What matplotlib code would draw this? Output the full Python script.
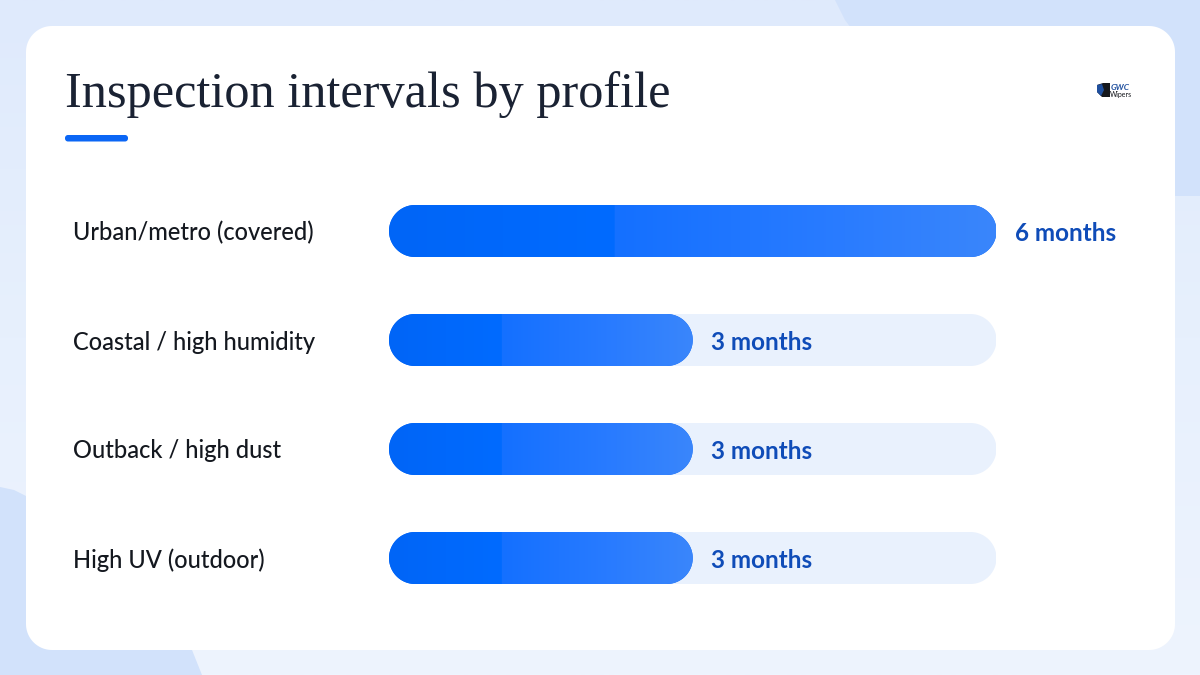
import numpy as np
import matplotlib
matplotlib.use("Agg")
import matplotlib.pyplot as plt
from matplotlib.patches import PathPatch, Polygon
from matplotlib.path import Path
from matplotlib.colors import LinearSegmentedColormap
from matplotlib.transforms import IdentityTransform

TITLE = "Inspection intervals by profile"
profiles = ["Urban/metro (covered)", "Coastal / high humidity", "Outback / high dust", "High UV (outdoor)"]
months = [6, 3, 3, 3]
scale_max = 6
value_labels = ["6 months", "3 months", "3 months", "3 months"]

W, H = 1200, 675


def round_rect(x0, y0, x1, y1, r, n=24):
    """Rounded rectangle with true circular corners."""
    pts = []
    corners = [(x1 - r, y1 - r, 0), (x0 + r, y1 - r, 90), (x0 + r, y0 + r, 180), (x1 - r, y0 + r, 270)]
    for cx, cy, start in corners:
        a = np.radians(np.linspace(start, start + 90, n))
        pts.append(np.column_stack([cx + r * np.cos(a), cy + r * np.sin(a)]))
    return Path(np.vstack(pts), closed=False)


fig = plt.figure(figsize=(12, 6.75), dpi=100, facecolor="#eaf2fe")

bg = fig.add_axes([0, 0, 1, 1], zorder=0)
bg_cmap = LinearSegmentedColormap.from_list("bg", ["#dfeafc", "#e7f0fd", "#eef4fe"])
bg.imshow(np.linspace(0, 1, 256).reshape(-1, 1), cmap=bg_cmap, extent=[0, W, H, 0], aspect="auto", zorder=0)
bg.set_xlim(0, W); bg.set_ylim(H, 0); bg.axis("off")
blob = "#d2e2fb"
bg.add_patch(Polygon([(835, 0), (1200, 0), (1200, 196), (1100, 196), (860, 40), (845, 20)],
                     closed=True, fc=blob, ec="none", zorder=1))
bg.add_patch(Polygon([(0, 487), (14, 490), (30, 498), (60, 600), (190, 645), (202, 675), (0, 675)],
                     closed=True, fc=blob, ec="none", zorder=1))
bg.add_patch(PathPatch(round_rect(26, 26, 1175, 650, 26), fc="white", ec="none", zorder=2))
bg.add_patch(PathPatch(round_rect(65, 135, 128, 141.5, 3), fc="#0b66f5", ec="none", zorder=3))
bg.text(65, 107, TITLE, fontsize=36.3, family="Liberation Serif", color="#1a2233",
        va="baseline", ha="left", zorder=3)

# logo mark
bg.add_patch(Polygon([(1097, 85), (1103, 83), (1110, 83), (1110, 97), (1102, 97), (1097, 92)],
                     closed=True, fc="#15171c", ec="none", zorder=3))
bg.add_patch(Polygon([(1097, 85), (1102, 84), (1104, 90), (1101, 96), (1097, 92)],
                     closed=True, fc="#1f4f9e", ec="none", zorder=4))
bg.text(1111, 87.5, "GWC", fontsize=6, color="#1f4f9e", weight="bold", style="italic",
        family="Lato", va="center", ha="left", zorder=3)
bg.text(1110, 94, "Wipers", fontsize=5, color="#15171c", family="Lato", va="center", ha="left", zorder=3)

# plotting axes: x in months, rows by category
ROW = 109
ax = fig.add_axes([389 / W, 1 - 612 / H, (996.5 - 389) / W, (612 - 177) / H], zorder=5)
YLIM = (3 + (612 - 558) / ROW, -(231 - 177) / ROW)
ax.set_xlim(0, scale_max)
ax.set_ylim(*YLIM)
ax.patch.set_alpha(0)
ax.axis("off")

cmap = LinearSegmentedColormap.from_list(
    "bar", [(0, "#0065f7"), (0.37, "#006bff"), (0.372, "#1470ff"), (0.75, "#2a7cff"), (1, "#3a86fb")])
fig.canvas.draw()
BAR_H = 52


def pill(x0, x1, yc, **kw):
    # pixel-space pill positioned through the axes' data transform
    p0 = ax.transData.transform((x0, yc))
    p1 = ax.transData.transform((x1, yc))
    r = BAR_H / 2
    patch = PathPatch(round_rect(p0[0], p0[1] - r, p1[0], p0[1] + r, r),
                      transform=IdentityTransform(), **kw)
    ax.add_patch(patch)
    return patch


for i, (name, m, lab) in enumerate(zip(profiles, months, value_labels)):
    pill(0, scale_max, i, fc="#e9f1fd", ec="none", zorder=1)
    patch = pill(0, m, i, fc="#0b66f5", ec="none", zorder=2)
    grad = np.linspace(0, 1, 512).reshape(1, -1)
    im = ax.imshow(grad, cmap=cmap, extent=[0, m, i + 0.3, i - 0.3], aspect="auto", zorder=3, vmin=0, vmax=1)
    im.set_clip_path(patch)
    ax.annotate(name, (0, i), xytext=(-316, -2), textcoords="offset pixels", fontsize=17, family="Lato",
                weight="medium", color="#14181f", va="center", ha="left", zorder=4, annotation_clip=False)
    ax.annotate(lab, (m, i), xytext=(18.5, -2.5), textcoords="offset pixels", fontsize=17.5, family="Lato",
                weight="bold", color="#0f4cb8", va="center", ha="left", zorder=4, annotation_clip=False)
ax.set_xlim(0, scale_max)
ax.set_ylim(*YLIM)

fig.savefig("out.png", dpi=100, facecolor=fig.get_facecolor())
